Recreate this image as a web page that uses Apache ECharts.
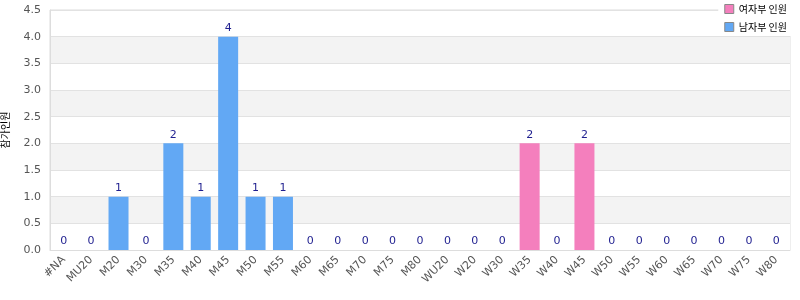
<!DOCTYPE html>
<html><head><meta charset="utf-8">
<script src="https://cdn.jsdelivr.net/npm/echarts@6/dist/echarts.min.js"></script>
<style>html,body{margin:0;padding:0;background:#fff}#c{width:800px;height:300px}</style>
</head><body><div id="c"></div>
<script>
const categories = ['#NA','MU20','M20','M30','M35','M40','M45','M50','M55','M60','M65','M70','M75','M80','WU20','W20','W30','W35','W40','W45','W50','W55','W60','W65','W70','W75','W80'];
const menValues =   [0,0,1,0,2,1,4,1,1,0,0,0,0,0,null,null,null,null,null,null,null,null,null,null,null,null,null];
const womenValues = [null,null,null,null,null,null,null,null,null,null,null,null,null,null,0,0,0,2,0,2,0,0,0,0,0,0,0];
const yTicks = {min:0, max:4.5, interval:0.5};
const womenName = '여자부 인원';
const menName = '남자부 인원';
const yName = '참가인원';

const chart = echarts.init(document.getElementById('c'), null, {renderer:'canvas'});
const lbl = {show:true, position:'top', color:'#1f1f8f', fontSize:11, distance:3, fontFamily:'DejaVu Sans'};
chart.setOption({
  animation:false,
  textStyle:{fontFamily:'DejaVu Sans, Noto Sans CJK KR'},
  grid:{left:50, right:10, top:10, bottom:50, containLabel:false, outerBoundsMode:'none', show:true, borderColor:'#dddddd', borderWidth:1, backgroundColor:'transparent'},
  legend:{
    orient:'vertical', right:5, top:0, backgroundColor:'#fff', padding:[4,8,4,6], itemGap:8,
    itemWidth:9, itemHeight:9, icon:'rect',
    textStyle:{color:'#000', fontSize:10, fontFamily:'Noto Sans CJK KR'},
    data:[{name:womenName, itemStyle:{borderColor:'#888', borderWidth:1}}, {name:menName, itemStyle:{borderColor:'#888', borderWidth:1}}]
  },
  xAxis:{
    type:'category', data:categories,
    axisLine:{lineStyle:{color:'#dddddd'}},
    axisTick:{show:false},
    axisLabel:{interval:0, rotate:45, color:'#555', fontSize:11, margin:8}
  },
  yAxis:{
    type:'value', min:yTicks.min, max:yTicks.max, interval:yTicks.interval,
    name:yName, nameLocation:'middle', nameRotate:90, nameGap:40,
    nameTextStyle:{color:'#000', fontSize:10, fontFamily:'Noto Sans CJK KR'},
    axisLine:{show:true, lineStyle:{color:'#dddddd'}},
    axisTick:{show:false},
    axisLabel:{color:'#555', fontSize:11, margin:9, formatter:v=>v.toFixed(1)},
    splitLine:{lineStyle:{color:'#e2e2e2'}},
    splitArea:{show:true, areaStyle:{color:['#ffffff','#f3f3f3']}}
  },
  series:[
    {name:womenName, type:'bar', stack:'s', barWidth:20, data:womenValues, itemStyle:{color:'#f47fbd'}, label:lbl},
    {name:menName, type:'bar', stack:'s', barWidth:20, data:menValues, itemStyle:{color:'#62a8f4'}, label:lbl}
  ]
});
</script></body></html>
